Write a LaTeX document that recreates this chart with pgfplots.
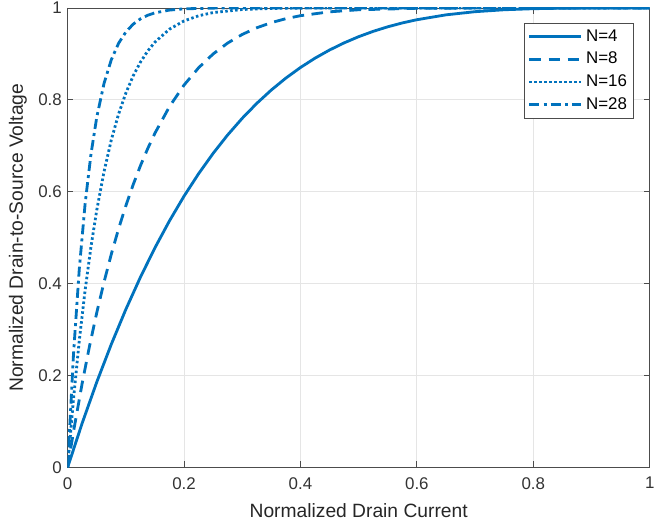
\documentclass[border=0pt]{standalone}
\usepackage{pgfplots}
\pgfplotsset{compat=1.18}
\usetikzlibrary{calc}
\usepackage{fontspec}
\setmainfont{Liberation Sans}
\definecolor{mblue}{RGB}{0,114,189}
\begin{document}
\begin{tikzpicture}
\begin{axis}[
  scale only axis,
  width=351pt, height=277pt,
  xmin=0, xmax=1, ymin=0, ymax=1,
  xtick={0,0.2,0.4,0.6,0.8,1},
  ytick={0,0.2,0.4,0.6,0.8,1},
  xticklabels={0,0.2,0.4,0.6,0.8,1},
  yticklabels={0,0.2,0.4,0.6,0.8,1},
  tick align=inside,
  major tick length=3.5pt,
  axis line style={black!70, line width=0.5pt},
  tick style={black!70, line width=0.5pt},
  grid=major,
  grid style={gray!20, line width=0.5pt},
  xlabel={Normalized Drain Current},
  ylabel={Normalized Drain-to-Source Voltage},
  ticklabel style={font=\fontsize{10.2}{12}\selectfont, text=black!80},
  xticklabel style={yshift=-2.5pt},
  label style={font=\fontsize{11.6}{13}\selectfont, text=black!85},
  xlabel style={yshift=-2pt},
  ylabel style={yshift=0pt},
  legend style={at={(0.973,0.968)}, anchor=north east, font=\fontsize{10.2}{12}\selectfont, draw=black!70, line width=0.5pt, inner sep=2pt, row sep=1pt},
  legend cell align=left,
  legend image code/.code={\draw[#1, line width=1.6pt] (0cm,0cm) -- (1.1cm,0cm);},
  every axis plot/.append style={mblue, line width=1.7pt, no marks},
]
\addplot[solid] coordinates {
(0,0) (0.025,0.0963) (0.05,0.1855) (0.075,0.2679) (0.1,0.3439) (0.125,0.4138) (0.15,0.4780) (0.175,0.5367) (0.2,0.5904) (0.225,0.6392) (0.25,0.6836) (0.275,0.7237) (0.3,0.7599) (0.325,0.7924) (0.35,0.8215) (0.375,0.8474) (0.4,0.8704) (0.425,0.8907) (0.45,0.9085) (0.475,0.9240) (0.5,0.9375) (0.525,0.9491) (0.55,0.9590) (0.575,0.9674) (0.6,0.9744) (0.65,0.9850) (0.7,0.9919) (0.75,0.9961) (0.8,0.9984) (0.85,0.9995) (0.9,0.9999) (1,1)};
\addlegendentry{N=4}
\addplot[dash pattern=on 7pt off 4.5pt] coordinates {
(0,0) (0.01,0.0773) (0.025,0.1833) (0.0375,0.2634) (0.05,0.3366) (0.0625,0.4033) (0.075,0.4640) (0.0875,0.5193) (0.1,0.5695) (0.1125,0.6151) (0.125,0.6564) (0.1375,0.6937) (0.15,0.7275) (0.175,0.7854) (0.2,0.8322) (0.225,0.8698) (0.25,0.8999) (0.275,0.9237) (0.3,0.9424) (0.325,0.9569) (0.35,0.9681) (0.375,0.9767) (0.4,0.9832) (0.45,0.9916) (0.5,0.9961) (0.6,0.9993) (0.7,0.9999) (0.8,1) (1,1)};
\addlegendentry{N=8}
\addplot[dash pattern=on 1.5pt off 1.5pt] coordinates {
(0,0) (0.01,0.1485) (0.02,0.2762) (0.03,0.3857) (0.04,0.4796) (0.05,0.5599) (0.0625,0.6437) (0.075,0.7127) (0.0875,0.7691) (0.1,0.8147) (0.1125,0.8519) (0.125,0.8819) (0.1375,0.9062) (0.15,0.9257) (0.175,0.9539) (0.2,0.9718) (0.225,0.9830) (0.25,0.9900) (0.3,0.9967) (0.35,0.9990) (0.4,0.9997) (0.5,1) (1,1)};
\addlegendentry{N=16}
\addplot[dash pattern=on 6pt off 2.5pt on 1.8pt off 2.5pt] coordinates {
(0,0) (0.01,0.2453) (0.02,0.4320) (0.03,0.5738) (0.04,0.6812) (0.05,0.7622) (0.0625,0.8358) (0.075,0.8873) (0.0875,0.9231) (0.1,0.9477) (0.1125,0.9646) (0.125,0.9762) (0.1375,0.9841) (0.15,0.9894) (0.175,0.9954) (0.2,0.9981) (0.25,0.9997) (0.3,1) (1,1)};
\addlegendentry{N=28}
\end{axis}
\pgfresetboundingbox
\path ($(current axis.south west)+(-40.8pt,-37.2pt)$) rectangle ($(current axis.north east)+(3.2pt,4.8pt)$);
\end{tikzpicture}
\end{document}
